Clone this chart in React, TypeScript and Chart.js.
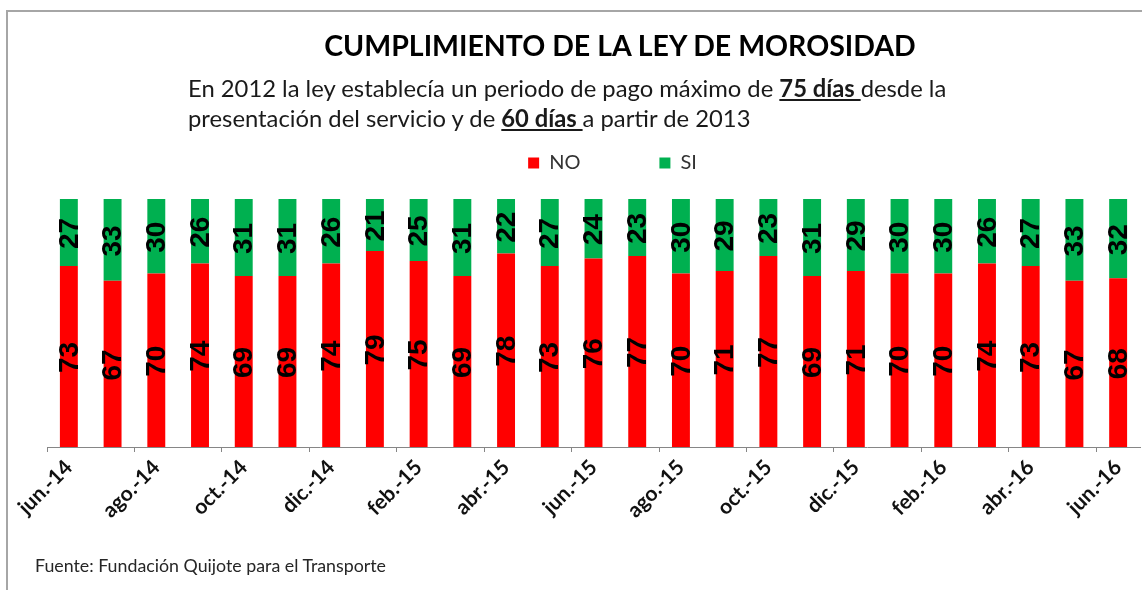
import React, { useEffect, useRef } from "react";
import { Chart, registerables } from "chart.js";

Chart.register(...registerables);

const months = [
  "jun.-14", "jul.-14", "ago.-14", "sep.-14", "oct.-14", "nov.-14", "dic.-14",
  "ene.-15", "feb.-15", "mar.-15", "abr.-15", "may.-15", "jun.-15", "jul.-15",
  "ago.-15", "sep.-15", "oct.-15", "nov.-15", "dic.-15", "ene.-16", "feb.-16",
  "mar.-16", "abr.-16", "may.-16", "jun.-16",
];
const noValues = [73, 67, 70, 74, 69, 69, 74, 79, 75, 69, 78, 73, 76, 77, 70, 71, 77, 69, 71, 70, 70, 74, 73, 67, 68];
const siValues = [27, 33, 30, 26, 31, 31, 26, 21, 25, 31, 22, 27, 24, 23, 30, 29, 23, 31, 29, 30, 30, 26, 27, 33, 32];

const RED = "#FF0000";
const GREEN = "#00B050";
const AXIS = "#868686";

const barLabels = {
  id: "barLabels",
  afterDatasetsDraw(chart: any) {
    const ctx = chart.ctx;
    ctx.save();
    ctx.font = "bold 28px 'Liberation Sans', Arial, sans-serif";
    ctx.fillStyle = "#000";
    ctx.textAlign = "center";
    ctx.textBaseline = "middle";
    chart.data.datasets.forEach((ds: any, di: number) => {
      const meta = chart.getDatasetMeta(di);
      meta.data.forEach((bar: any, j: number) => {
        const p = bar.getProps(["x", "y", "base"], true);
        ctx.save();
        ctx.translate(p.x, (p.y + p.base) / 2 + 1);
        ctx.rotate(-Math.PI / 2);
        ctx.fillText(String(ds.data[j]), 0, 1);
        ctx.restore();
      });
    });
    ctx.restore();
  },
};

const legendTweak = {
  id: "legendTweak",
  beforeInit(chart: any) {
    const orig = chart.legend.fit;
    chart.legend.fit = function fit() {
      orig.bind(chart.legend)();
      this.height += 16;
    };
  },
  afterLayout(chart: any) {
    if (chart.legend) {
      chart.legend.left += 19;
      chart.legend.right += 19;
    }
  },
};

export default function App() {
  const ref = useRef<HTMLCanvasElement | null>(null);

  useEffect(() => {
    if (!ref.current) return;
    const chart = new Chart(ref.current, {
      type: "bar",
      data: {
        labels: months,
        datasets: [
          { label: "NO", data: noValues, backgroundColor: RED, borderWidth: 0 },
          { label: "SI", data: siValues, backgroundColor: GREEN, borderWidth: 0 },
        ],
      },
      options: {
        responsive: false,
        animation: false,
        layout: { padding: { top: 74, left: 47, right: 2, bottom: 0 } },
        datasets: { bar: { categoryPercentage: 1, barPercentage: 0.41 } } as any,
        plugins: {
          legend: {
            display: true,
            position: "top",
            labels: {
              boxWidth: 11,
              boxHeight: 11,
              padding: 79,
              color: "#333",
              font: { family: "Lato, 'Open Sans', sans-serif", size: 20 },
            },
          },
          title: { display: false },
          tooltip: { enabled: false },
        },
        scales: {
          x: {
            stacked: true,
            offset: true,
            grid: {
              display: true,
              offset: true,
              drawOnChartArea: false,
              drawTicks: true,
              tickLength: 5,
              color: (c: any) => (c.index % 2 === 0 ? AXIS : "rgba(0,0,0,0)"),
            },
            border: { display: true, color: AXIS, width: 1 },
            ticks: {
              autoSkip: false,
              maxRotation: 45,
              minRotation: 45,
              padding: 3,
              color: "#111",
              font: { family: "Lato, 'Open Sans', sans-serif", size: 21, weight: "bold" },
              callback: (_v: any, i: number) => (i % 2 === 0 ? months[i] : ""),
            },
            afterFit: (s: any) => {
              s.height = 143;
            },
          },
          y: {
            display: false,
            stacked: true,
            min: 0,
            max: 100,
          },
        },
      },
      plugins: [barLabels, legendTweak],
    });
    return () => chart.destroy();
  }, []);

  const font = "Lato, 'Open Sans', sans-serif";

  return (
    <div
      style={{
        position: "fixed",
        left: 0,
        top: 0,
        width: 1142,
        height: 590,
        background: "#fff",
        overflow: "hidden",
        fontFamily: font,
      }}
    >
      <div
        style={{
          position: "absolute",
          left: 6,
          top: 10,
          width: 1200,
          height: 700,
          borderLeft: "2px solid #a6a6a6",
          borderTop: "2px solid #a6a6a6",
        }}
      />
      <canvas ref={ref} width={1142} height={590} style={{ position: "absolute", left: 0, top: 0 }} />
      <div
        style={{
          position: "absolute",
          left: 0,
          width: 1240,
          top: 28,
          textAlign: "center",
          fontSize: 28.5,
          fontWeight: "bold",
          lineHeight: "34px",
          color: "#000",
          whiteSpace: "nowrap",
        }}
      >
        CUMPLIMIENTO DE LA LEY DE MOROSIDAD
      </div>
      <div
        style={{
          position: "absolute",
          left: 188,
          top: 73,
          fontSize: 23.8,
          lineHeight: "30px",
          color: "#1a1a1a",
          whiteSpace: "nowrap",
        }}
      >
        <div>
          En 2012 la ley establecía un periodo de pago máximo de{" "}
          <b style={{ textDecoration: "underline" }}>75 días </b>desde la
        </div>
        <div>
          presentación del servicio y de <b style={{ textDecoration: "underline" }}>60 días </b>a partir de 2013
        </div>
      </div>
      <div
        style={{
          position: "absolute",
          left: 35,
          top: 553,
          fontSize: 17.8,
          lineHeight: "24px",
          color: "#262626",
          whiteSpace: "nowrap",
        }}
      >
        Fuente: Fundación Quijote para el Transporte
      </div>
    </div>
  );
}
